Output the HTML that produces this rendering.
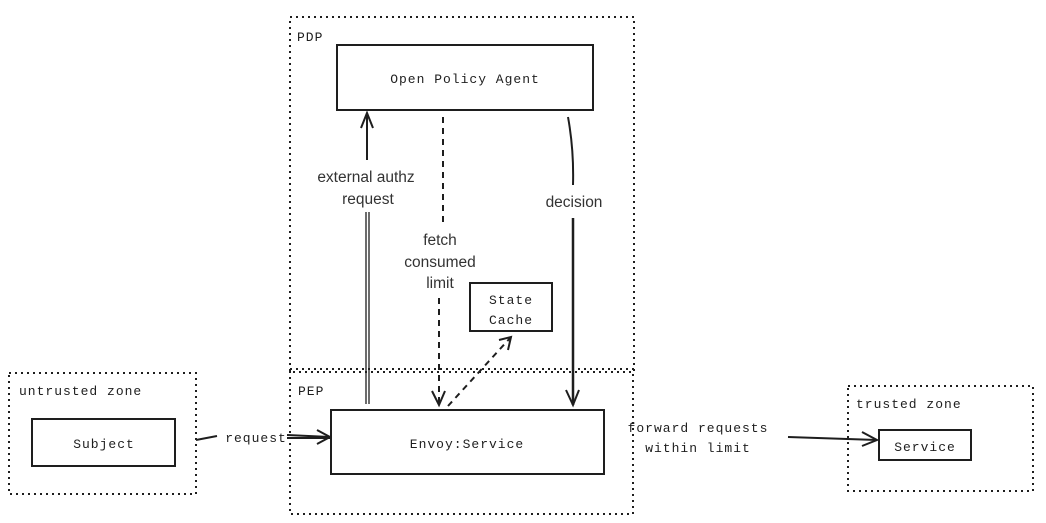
<!DOCTYPE html>
<html><head><meta charset="utf-8"><style>
html,body{margin:0;padding:0;background:#fff;}
svg{display:block}
.m{font-family:"Liberation Mono",monospace;font-size:13px;letter-spacing:1px;fill:#1e1e1e}
.s{font-family:"Liberation Sans",sans-serif;font-size:15.5px;fill:#333}
</style></head><body>
<svg width="1046" height="523" viewBox="0 0 1046 523" xmlns="http://www.w3.org/2000/svg">
<g fill="none" stroke="#1e1e1e" stroke-width="2" stroke-dasharray="2 4">
<rect x="290" y="17" width="344" height="355"/>
<rect x="290" y="369" width="343" height="145"/>
<rect x="9" y="373" width="187" height="121"/>
<rect x="848" y="386" width="185" height="105"/>
</g>
<g fill="#fff" stroke="#1e1e1e" stroke-width="2">
<rect x="337" y="45" width="256" height="65"/>
<rect x="331" y="410" width="273" height="64"/>
<rect x="470" y="283" width="82" height="48"/>
<rect x="32" y="419" width="143" height="47"/>
<rect x="879" y="430" width="92" height="30"/>
</g>
<g class="m">
<text x="297" y="41">PDP</text>
<text x="298" y="395">PEP</text>
<text x="465" y="83" text-anchor="middle">Open Policy Agent</text>
<text x="467" y="448" text-anchor="middle">Envoy:Service</text>
<text x="511" y="304" text-anchor="middle">State</text>
<text x="511" y="324" text-anchor="middle">Cache</text>
<text x="104" y="448" text-anchor="middle">Subject</text>
<text x="925" y="451" text-anchor="middle">Service</text>
<text x="19" y="395">untrusted zone</text>
<text x="856" y="408">trusted zone</text>
<text x="256" y="442" text-anchor="middle">request</text>
<text x="698" y="432" text-anchor="middle">forward requests</text>
<text x="698" y="452" text-anchor="middle">within limit</text>
</g>
<g class="s" text-anchor="middle">
<text x="366" y="182">external authz</text>
<text x="368" y="204">request</text>
<text x="440" y="245">fetch</text>
<text x="440" y="267">consumed</text>
<text x="440" y="288">limit</text>
<text x="574" y="207">decision</text>
</g>
<g fill="none" stroke="#1e1e1e" stroke-width="2">
<path d="M367 160 V113 M361 128 L367 113 L373 128"/>
<path d="M366 212 V404 M369 212 V404" stroke-width="1.3"/>
<path d="M443 117 V225" stroke-dasharray="6 5"/>
<path d="M439 298 V405" stroke-dasharray="6 5"/>
<path d="M432 391 L439 405 L445 391"/>
<path d="M448 406 L511 337" stroke-dasharray="6 5"/>
<path d="M499 340 L511 337 L508 350"/>
<path d="M568 117 Q574 150 573 185"/>
<path d="M573 218 V405" stroke-width="2.5"/>
<path d="M566 390 L573 405 L579 390"/>
<path d="M196 440 L217 436"/>
<path d="M287 435 L330 437 M287 438 L330 438"/>
<path d="M317 430 L330 437 L317 444"/>
<path d="M788 437 L877 440"/>
<path d="M862 432 L877 440 L862 446"/>
</g>
</svg>
</body></html>
